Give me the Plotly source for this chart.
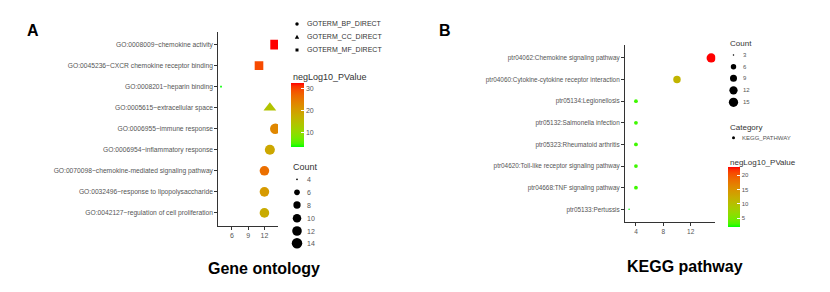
import math
import plotly.graph_objects as go

# ---------------- data ----------------
go_terms = [
    "GO:0008009~chemokine activity",
    "GO:0045236~CXCR chemokine receptor binding",
    "GO:0008201~heparin binding",
    "GO:0005615~extracellular space",
    "GO:0006955~immune response",
    "GO:0006954~inflammatory response",
    "GO:0070098~chemokine-mediated signaling pathway",
    "GO:0032496~response to lipopolysaccharide",
    "GO:0042127~regulation of cell proliferation",
]
go_category = [
    "GOTERM_MF_DIRECT", "GOTERM_MF_DIRECT", "GOTERM_MF_DIRECT",
    "GOTERM_CC_DIRECT", "GOTERM_BP_DIRECT", "GOTERM_BP_DIRECT",
    "GOTERM_BP_DIRECT", "GOTERM_BP_DIRECT", "GOTERM_BP_DIRECT",
]
go_count = [14, 11, 4, 13, 14, 13, 12, 12, 12]
go_neglog10p = [32.4, 29.5, 3.3, 13.9, 23.0, 18.5, 26.0, 20.5, 17.8]
go_categories = ["GOTERM_BP_DIRECT", "GOTERM_CC_DIRECT", "GOTERM_MF_DIRECT"]
go_count_legend = [4, 6, 8, 10, 12, 14]
go_color_ticks = [10, 20, 30]
go_x_ticks = [6, 9, 12]

kegg_terms = [
    "ptr04062:Chemokine signaling pathway",
    "ptr04060:Cytokine-cytokine receptor interaction",
    "ptr05134:Legionellosis",
    "ptr05132:Salmonella infection",
    "ptr05323:Rheumatoid arthritis",
    "ptr04620:Toll-like receptor signaling pathway",
    "ptr04668:TNF signaling pathway",
    "ptr05133:Pertussis",
]
kegg_count = [15, 10, 4, 4, 4, 4, 4, 3]
kegg_neglog10p = [22.9, 11.5, 3.0, 3.0, 3.0, 3.0, 3.0, 2.1]
kegg_count_legend = [3, 6, 9, 12, 15]
kegg_color_ticks = [5, 10, 15, 20]
kegg_x_ticks = [4, 8, 12]

# ---------------- helpers ----------------
W, H = 830, 292
FONT = "Liberation Sans, Arial, sans-serif"
TXT = "#555555"
TTL = "#333333"


def px(x):
    return x / W


def py(y):
    return 1 - y / H


def _lin(c):
    return c / 12.92 if c <= 0.04045 else ((c + 0.055) / 1.055) ** 2.4


def _gam(c):
    c = 12.92 * c if c <= 0.0031308 else 1.055 * c ** (1 / 2.4) - 0.055
    return min(1, max(0, c))


def rgb2lab(rgb):
    r, g, b = [_lin(v / 255) for v in rgb]
    X = (0.4124564 * r + 0.3575761 * g + 0.1804375 * b) / 0.95047
    Y = (0.2126729 * r + 0.7151522 * g + 0.0721750 * b)
    Z = (0.0193339 * r + 0.1191920 * g + 0.9503041 * b) / 1.08883
    f = lambda t: t ** (1 / 3) if t > 0.008856 else 7.787 * t + 16 / 116
    return 116 * f(Y) - 16, 500 * (f(X) - f(Y)), 200 * (f(Y) - f(Z))


def lab2rgb(L, a, b):
    fy = (L + 16) / 116
    fx = fy + a / 500
    fz = fy - b / 200
    fi = lambda t: t ** 3 if t ** 3 > 0.008856 else (t - 16 / 116) / 7.787
    X, Y, Z = fi(fx) * 0.95047, fi(fy), fi(fz) * 1.08883
    r = 3.2404542 * X - 1.5371385 * Y - 0.4985314 * Z
    g = -0.9692660 * X + 1.8760108 * Y + 0.0415560 * Z
    bb = 0.0556434 * X - 0.2040259 * Y + 1.0572252 * Z
    return "rgb(%d,%d,%d)" % tuple(round(_gam(v) * 255) for v in (r, g, bb))


lo, hi = rgb2lab((0, 255, 0)), rgb2lab((255, 0, 0))
colorscale = []
for i in range(21):
    t = i / 20
    colorscale.append([t, lab2rgb(*[lo[k] + (hi[k] - lo[k]) * t for k in range(3)])])


def size_fn(k, cmin, cmax):
    return lambda c: k * (1 + 5 * math.sqrt((c - cmin) / (cmax - cmin)))


go_size = size_fn(1.75, min(go_count), max(go_count))
kegg_size = size_fn(1.55, min(kegg_count), max(kegg_count))

fig = go.Figure()

# ---------------- GO panel ----------------
sym_map = {"GOTERM_BP_DIRECT": ("circle", 1.0),
           "GOTERM_CC_DIRECT": ("triangle-up", 1.1),
           "GOTERM_MF_DIRECT": ("square", 0.95)}
for cat in go_categories:
    idx = [i for i, c in enumerate(go_category) if c == cat]
    sym, fac = sym_map[cat]
    fig.add_trace(go.Scatter(
        x=[go_count[i] for i in idx], y=[go_terms[i] for i in idx],
        mode="markers", xaxis="x", yaxis="y", showlegend=False, hoverinfo="skip",
        marker=dict(symbol=sym, size=[go_size(go_count[i]) * fac for i in idx], opacity=1,
                    color=[go_neglog10p[i] for i in idx], coloraxis="coloraxis",
                    line=dict(width=0)),
    ))

# ---------------- KEGG panel ----------------
fig.add_trace(go.Scatter(
    x=kegg_count, y=kegg_terms, mode="markers", xaxis="x2", yaxis="y2",
    showlegend=False, hoverinfo="skip",
    marker=dict(symbol="circle", size=[kegg_size(c) for c in kegg_count], opacity=1,
                color=kegg_neglog10p, coloraxis="coloraxis2", line=dict(width=0)),
))

axis_common = dict(showgrid=False, zeroline=False, showline=True, linecolor="#333333",
                   linewidth=1, ticks="outside", ticklen=3, tickcolor="#333333",
                   tickwidth=1, automargin=False, fixedrange=True)

fig.update_layout(
    width=W, height=H, margin=dict(l=0, r=0, t=0, b=0),
    paper_bgcolor="white", plot_bgcolor="white",
    font=dict(family=FONT, color=TXT),
    xaxis=dict(domain=[px(218.3), px(278)], range=[3.5, 14.5], tickvals=go_x_ticks,
               tickfont=dict(size=7, color=TXT), anchor="y", **axis_common),
    yaxis=dict(domain=[py(225.5), py(32)], type="category", categoryorder="array",
               categoryarray=list(reversed(go_terms)), range=[-0.6, len(go_terms) - 0.4],
               tickfont=dict(size=6.7, color=TXT), anchor="x", **axis_common),
    xaxis2=dict(domain=[px(625), px(715.3)], range=[2.4, 15.6], tickvals=kegg_x_ticks,
                tickfont=dict(size=6.5, color=TXT), anchor="y2", **axis_common),
    yaxis2=dict(domain=[py(222.3), py(45)], type="category", categoryorder="array",
                categoryarray=list(reversed(kegg_terms)), range=[-0.6, len(kegg_terms) - 0.4],
                tickfont=dict(size=6.4, color=TXT), anchor="x2", **axis_common),
    coloraxis=dict(colorscale=colorscale, cmin=min(go_neglog10p), cmax=max(go_neglog10p),
                   colorbar=dict(x=px(290.7), xanchor="left", y=py(83), yanchor="top",
                                 len=63.7, lenmode="pixels", thickness=13, thicknessmode="pixels",
                                 xpad=0, ypad=0, outlinewidth=0, tickvals=go_color_ticks,
                                 ticks="inside", ticklen=3, tickcolor="white",
                                 tickfont=dict(size=7, color=TXT, family=FONT), title=dict(text=""))),
    coloraxis2=dict(colorscale=colorscale, cmin=min(kegg_neglog10p), cmax=max(kegg_neglog10p),
                    colorbar=dict(x=px(727.7), xanchor="left", y=py(166.7), yanchor="top",
                                  len=60, lenmode="pixels", thickness=11.5, thicknessmode="pixels",
                                  xpad=0, ypad=0, outlinewidth=0, tickvals=kegg_color_ticks,
                                  ticks="inside", ticklen=3, tickcolor="white",
                                  tickfont=dict(size=6, color=TXT, family=FONT), title=dict(text=""))),
)

ann = []
shapes = []


def text(x, y, s, size, color=TXT, bold=False, xanchor="left"):
    ann.append(dict(x=px(x), y=py(y), xref="paper", yref="paper", text=("<b>%s</b>" % s) if bold else s,
                    showarrow=False, xanchor=xanchor, yanchor="middle",
                    font=dict(size=size, color=color, family=FONT)))


def dot(cx, cy, d, color="black"):
    shapes.append(dict(type="circle", xref="paper", yref="paper", x0=px(cx - d / 2), x1=px(cx + d / 2),
                       y0=py(cy + d / 2), y1=py(cy - d / 2), fillcolor=color, line=dict(width=0)))


def poly(points, color="black"):
    path = "M " + " L ".join("%f,%f" % (px(a), py(b)) for a, b in points) + " Z"
    shapes.append(dict(type="path", xref="paper", yref="paper", path=path, fillcolor=color, line=dict(width=0)))


# panel letters and titles
text(33, 31, "A", 16, color="black", bold=True, xanchor="center")
text(445, 31, "B", 16, color="black", bold=True, xanchor="center")
text(264, 268, "Gene ontology", 16, color="black", bold=True, xanchor="center")
text(685, 266, "KEGG pathway", 16, color="black", bold=True, xanchor="center")

# GO shape legend
leg_y = [24, 37, 50]
for cat, yy in zip(go_categories, leg_y):
    sym = sym_map[cat][0]
    if sym == "circle":
        dot(297, yy, 3.5)
    elif sym == "triangle-up":
        poly([(294.8, yy + 1.7), (299.2, yy + 1.7), (297, yy - 2.2)])
    else:
        poly([(295.5, yy - 1.5), (298.5, yy - 1.5), (298.5, yy + 1.5), (295.5, yy + 1.5)])
    text(305, yy, cat, 7, color=TTL)

# GO color title
text(290.5, 77, "negLog10_PValue", 9, color=TTL)
# GO count legend
text(290.5, 167, "Count", 9, color=TTL)
for c, yy in zip(go_count_legend, [179.3, 192.3, 205, 218.3, 231, 243.3]):
    dot(297, yy, go_size(c))
    text(305, yy, str(c), 7)

# KEGG count legend
text(727.7, 44, "Count", 8, color=TTL)
for c, yy in zip(kegg_count_legend, [55, 66.7, 78.3, 90.3, 102.3]):
    dot(733.5, yy, kegg_size(c))
    text(740.5, yy, str(c), 6)
text(727.7, 127, "Category", 8, color=TTL)
dot(733.5, 137.7, 3)
text(739.5, 137.7, "KEGG_PATHWAY", 6)
text(727.7, 162.5, "negLog10_PValue", 8, color=TTL)

fig.update_layout(annotations=ann, shapes=shapes)
fig.write_html("out.html", config={"displayModeBar": False, "staticPlot": True},
               post_script="document.body.style.margin='0';document.body.style.overflow='hidden';")
